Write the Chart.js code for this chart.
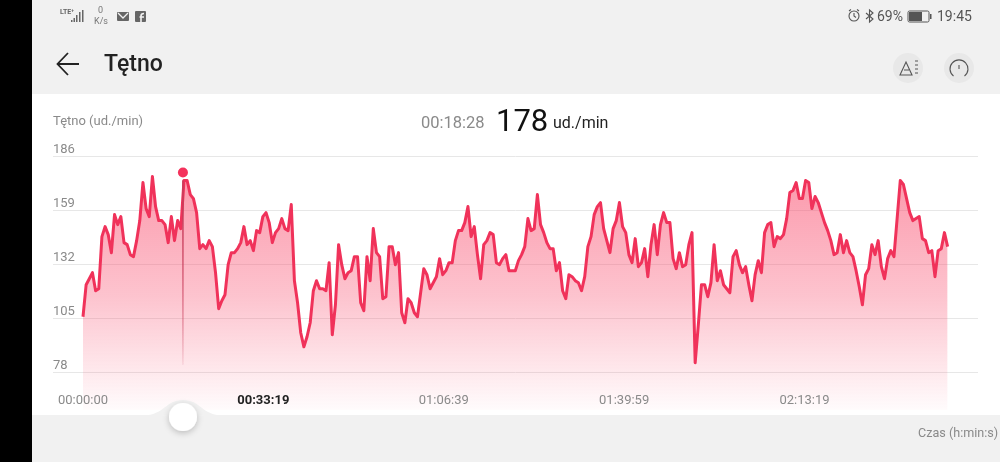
<!DOCTYPE html>
<html>
<head>
<meta charset="utf-8">
<script src="https://cdn.jsdelivr.net/npm/chart.js@4"></script>
<style>
  html, body { margin: 0; padding: 0; width: 1000px; height: 462px; overflow: hidden; background: #f1f1f1; font-family: Roboto, sans-serif; }
  .side { position: absolute; left: 0; top: 0; width: 32px; height: 462px; background: #000; }
  .panel { position: absolute; left: 32px; top: 94px; width: 968px; height: 321px; background: #fff; }
  #wrap { position: absolute; left: 32px; top: 94px; width: 968px; height: 321px; }
  .t { position: absolute; white-space: nowrap; line-height: 1; }
  svg { position: absolute; left: 0; top: 0; }
</style>
</head>
<body>
<div class="side"></div>
<div class="panel"></div>
<div id="wrap"><canvas id="chart" width="968" height="321"></canvas></div>

<svg width="1000" height="462">
  <defs>
    <filter id="shadow" x="-50%" y="-50%" width="200%" height="200%">
      <feDropShadow dx="0" dy="2" stdDeviation="3" flood-color="#000" flood-opacity="0.22"/>
    </filter>
  </defs>
  <!-- slider bump and thumb -->
  <path d="M143 415.5 C165 415 165 400 183 400 C201 400 201 415 223 415.5 Z" fill="#f1f1f1"/>
  <circle cx="183" cy="417" r="14" fill="#fff" filter="url(#shadow)"/>
  <!-- back arrow -->
  <path d="M79 64 H58 M68 53 L57.5 64 L68 75" fill="none" stroke="#222" stroke-width="1.8"/>
  <!-- status bar left -->
  <g fill="#666">
    <rect x="71" y="20" width="1.5" height="2"/><rect x="73.5" y="18" width="1.5" height="4"/>
    <rect x="76" y="15" width="1.5" height="7"/><rect x="79" y="12" width="1.5" height="10"/><rect x="82" y="10" width="1.5" height="12"/>
    <rect x="117" y="12" width="12" height="9" rx="1"/>
    <rect x="135" y="11" width="11" height="11" rx="1"/>
  </g>
  <path d="M118 13 L123 18 L128 13" fill="none" stroke="#f1f1f1" stroke-width="1.3"/>
  <path d="M141 22 V16 Q141 13.5 144 13.5 M139.5 17 H144" fill="none" stroke="#f1f1f1" stroke-width="1.6"/>
  <!-- status bar right -->
  <g fill="none" stroke="#555" stroke-width="1.1">
    <circle cx="854" cy="16" r="5"/><path d="M854 13 V16 L856 17.5 M849 11 L851 9.5 M859 11 L857 9.5"/>
    <path d="M866 13 L873 19 L869.5 22 V10 L873 13 L866 19"/>
  </g>
  <rect x="908" y="11" width="21" height="11" rx="1.5" fill="none" stroke="#555"/>
  <rect x="909" y="12" width="13" height="9" fill="#555"/>
  <rect x="930" y="14" width="1.5" height="5" fill="#555"/>
  <!-- header buttons -->
  <circle cx="908" cy="68" r="15" fill="#e8e8e8"/>
  <circle cx="959" cy="68" r="15" fill="#e8e8e8"/>
  <g fill="none" stroke="#555" stroke-width="1.1">
    <path d="M900 75 L906 62 L912 75 Z M904 70 H909"/>
    <path d="M915 61 H918 M915 65 H918 M915 69 H918 M915 73 H918"/>
    <path d="M953.5 76 A9 9 0 1 1 964.5 76"/><path d="M959 69 V65"/>
  </g>
</svg>

<div class="t" style="left:60px;top:9px;font-size:7px;font-weight:700;color:#666">LTE⁺</div>
<div class="t" style="left:98px;top:6px;font-size:9px;color:#777">0</div>
<div class="t" style="left:94px;top:17px;font-size:9px;color:#777">K/s</div>
<div class="t" style="left:877px;top:9px;font-size:14px;color:#555">69%</div>
<div class="t" style="left:937px;top:9px;font-size:14px;color:#555">19:45</div>
<div class="t" style="left:104px;top:52px;font-size:23px;font-weight:500;color:#222">Tętno</div>
<div class="t" style="left:53px;top:114px;font-size:13px;color:#8a8a8a">Tętno (ud./min)</div>
<div class="t" style="left:421px;top:115px;font-size:16.5px;color:#8a8a8a">00:18:28</div>
<div class="t" style="left:496px;top:105px;font-size:31px;color:#111">178</div>
<div class="t" style="left:553px;top:115px;font-size:16px;color:#222">ud./min</div>
<div class="t" style="left:918px;top:427px;font-size:12.6px;color:#8a8a8a">Czas (h:min:s)</div>

<script>
// wartosci, probki co ok. 35 s
const heartRate = [
  106, 122, 125, 128, 119, 120, 146, 151, 147, 138, 157, 152, 156, 143, 142, 137, 136, 144, 154, 173,
  160, 156, 176, 161, 154, 154, 152, 143, 156, 144, 154, 150, 174, 174, 167, 165, 158, 140, 142, 140,
  144, 141, 128, 110, 114, 117, 132, 138, 138, 140, 143, 151, 142, 144, 139, 149, 148, 156, 158, 153,
  143, 148, 150, 155, 150, 149, 162, 124, 113, 98, 91, 96, 103, 119, 124, 120, 120, 119, 133, 97,
  112, 142, 132, 125, 128, 129, 136, 136, 113, 109, 136, 124, 150, 138, 136, 115, 116, 141, 141, 132,
  138, 108, 103, 115, 113, 108, 106, 118, 130, 127, 120, 123, 126, 135, 127, 129, 133, 133, 144, 149,
  149, 153, 161, 146, 151, 137, 125, 142, 144, 148, 147, 133, 132, 135, 137, 129, 129, 129, 134, 137,
  141, 155, 149, 150, 167, 152, 148, 143, 140, 140, 129, 133, 119, 115, 127, 126, 124, 123, 119, 126,
  141, 146, 157, 161, 163, 150, 144, 138, 150, 154, 163, 151, 148, 137, 133, 145, 131, 133, 140, 126,
  142, 152, 137, 152, 158, 153, 153, 135, 130, 138, 131, 132, 142, 148, 83, 102, 122, 122, 116, 123,
  142, 124, 129, 122, 120, 118, 136, 139, 132, 128, 131, 122, 114, 127, 134, 128, 148, 152, 153, 141,
  146, 145, 147, 155, 168, 169, 173, 165, 165, 174, 173, 160, 166, 163, 158, 153, 149, 144, 137, 138,
  147, 138, 144, 138, 136, 129, 121, 112, 127, 130, 142, 137, 144, 131, 125, 135, 139, 136, 155, 174,
  172, 165, 158, 154, 155, 156, 145, 144, 138, 139, 126, 139, 140, 148, 141
];
const lastSampleSeconds = 9585;

const yTicks = [186, 159, 132, 105, 78];
const xTicks = [0, 1999, 3999, 5999, 7999];
const xTickLabels = ['00:00:00', '00:33:19', '01:06:39', '01:39:59', '02:13:19'];

const selectedSeconds = 1108;
const selectedValue = 178;
const guideBottom = 82;
const guideTop = 174;

const step = lastSampleSeconds / (heartRate.length - 1);
const linePoints = heartRate.map((v, i) => ({ x: i * step, y: v }));

const ctx = document.getElementById('chart').getContext('2d');

// wypelnienie pod linia
const fillGradient = (c) => {
  const area = c.chart.chartArea;
  if (!area) return 'rgba(250,90,120,0.4)';
  const g = c.chart.ctx.createLinearGradient(0, area.top, 0, area.bottom);
  g.addColorStop(0, 'rgba(249,80,112,0.62)');
  g.addColorStop(0.55, 'rgba(249,80,112,0.34)');
  g.addColorStop(1, 'rgba(249,80,112,0.02)');
  return g;
};

const guideGradient = (c) => {
  const area = c.chart.chartArea;
  if (!area) return '#d88';
  const g = c.chart.ctx.createLinearGradient(0, 80, 0, 272);
  g.addColorStop(0, 'rgba(200,60,90,0.9)');
  g.addColorStop(1, 'rgba(200,60,90,0.05)');
  return g;
};

new Chart(ctx, {
  type: 'line',
  data: {
    datasets: [
      {
        data: [{ x: selectedSeconds, y: selectedValue }],
        showLine: false,
        pointRadius: 5,
        pointBackgroundColor: '#f4325c',
        pointBorderWidth: 0
      },
      {
        data: [{ x: selectedSeconds, y: guideTop }, { x: selectedSeconds, y: guideBottom }],
        borderColor: guideGradient,
        borderWidth: 1,
        pointRadius: 0,
        fill: false
      },
      {
        data: linePoints,
        borderColor: '#f0325a',
        borderWidth: 3,
        borderJoinStyle: 'round',
        pointRadius: 0,
        tension: 0,
        fill: 'start',
        backgroundColor: fillGradient
      }
    ]
  },
  options: {
    responsive: false,
    animation: false,
    events: [],
    layout: { padding: { left: 21, right: 22, top: 62.5, bottom: 0 } },
    plugins: { legend: { display: false }, tooltip: { enabled: false } },
    scales: {
      x: {
        type: 'linear',
        min: -332.5,
        max: 9922,
        grid: { display: false, drawTicks: false },
        border: { display: false },
        afterBuildTicks: (s) => { s.ticks = xTicks.map(v => ({ value: v })); },
        afterFit: (s) => { s.height = 0; s.paddingLeft = 0; s.paddingRight = 0; },
        ticks: {
          z: 1,
          // mirror wylacza przycinanie etykiet do pudelka osi
          mirror: true,
          padding: 1,
          autoSkip: false,
          maxRotation: 0,
          callback: (v) => xTickLabels[xTicks.indexOf(v)],
          font: (c) => ({ family: 'Roboto', size: 13, weight: c.index === 1 ? '700' : '400' }),
          color: (c) => c.index === 1 ? '#222' : '#8a8a8a'
        }
      },
      y: {
        min: 59.45,
        max: 186,
        border: { display: false },
        grid: { color: '#e7e7e7', drawTicks: false, lineWidth: 1 },
        afterBuildTicks: (s) => { s.ticks = yTicks.map(v => ({ value: v })); },
        afterFit: (s) => { s.width = 0; s.paddingTop = 0; s.paddingBottom = 0; },
        ticks: {
          z: 1,
          mirror: true,
          padding: 0,
          // druga pusta linia podnosi etykiete nad linie siatki
          callback: (v) => [String(v), ''],
          font: { family: 'Roboto', size: 13, lineHeight: 1.1 },
          color: '#8a8a8a'
        }
      }
    }
  }
});
</script>
</body>
</html>
